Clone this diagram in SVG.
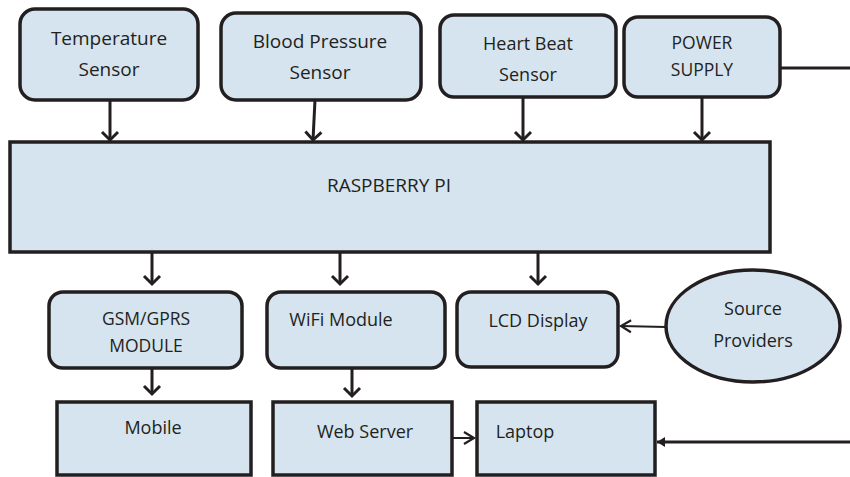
<svg xmlns="http://www.w3.org/2000/svg" width="850" height="477" viewBox="0 0 850 477">
<defs>
<style>
.box{fill:#d5e4ef;stroke:#231f20;stroke-width:3.5}
.t{font-family:"Open Sans","Liberation Sans",sans-serif;font-size:18px;fill:#231f20;text-anchor:middle}
.s{font-size:17.5px}
.c{fill:none;stroke:#231f20;stroke-width:3}
.thin{fill:none;stroke:#231f20;stroke-width:2}
</style>
<marker id="ah" markerUnits="userSpaceOnUse" markerWidth="20" markerHeight="20" viewBox="-10 -10 20 20" refX="0" refY="0" orient="auto" overflow="visible">
<path d="M-8,-8 L0,0 L-8,8" fill="none" stroke="#231f20" stroke-width="3"/>
</marker>
<marker id="ahs" markerUnits="userSpaceOnUse" markerWidth="20" markerHeight="20" viewBox="-10 -10 20 20" refX="0" refY="0" orient="auto" overflow="visible">
<path d="M-10,-6 L0,0 L-10,6" fill="none" stroke="#231f20" stroke-width="2.2"/>
</marker>
<marker id="ahf" markerUnits="userSpaceOnUse" markerWidth="20" markerHeight="20" viewBox="-10 -10 20 20" refX="0" refY="0" orient="auto" overflow="visible">
<path d="M-8,-5 L0,0 L-8,5 Z" fill="#231f20"/>
</marker>
</defs>
<rect width="850" height="477" fill="#ffffff"/>

<g id="connectors">
<line class="c" x1="110" y1="100" x2="110" y2="140" marker-end="url(#ah)"/>
<line class="c" x1="315" y1="100" x2="313" y2="140" marker-end="url(#ah)"/>
<line class="c" x1="523" y1="97" x2="523" y2="140" marker-end="url(#ah)"/>
<line class="c" x1="702" y1="97" x2="702" y2="140" marker-end="url(#ah)"/>
<line class="c" x1="780" y1="68" x2="850" y2="68"/>
<line class="c" x1="152" y1="252" x2="152" y2="284" marker-end="url(#ah)"/>
<line class="c" x1="340" y1="252" x2="340" y2="284" marker-end="url(#ah)"/>
<line class="c" x1="538" y1="252" x2="538" y2="284" marker-end="url(#ah)"/>
<line class="c" x1="152" y1="368" x2="152" y2="394" marker-end="url(#ah)"/>
<line class="c" x1="352" y1="362" x2="352" y2="396" marker-end="url(#ah)"/>
<line class="thin" x1="666" y1="327" x2="621" y2="326" marker-end="url(#ahs)"/>
<line class="thin" x1="452" y1="438" x2="474" y2="438" marker-end="url(#ahs)"/>
<line class="c" x1="850" y1="442" x2="657" y2="442" marker-end="url(#ahf)"/>
</g>

<g id="temperature-sensor">
<rect class="box" x="20" y="9" width="178" height="91" rx="15"/>
<text class="t" x="109" y="45" style="font-size:19px">Temperature</text>
<text class="t" x="109" y="76" style="font-size:19px">Sensor</text>
</g>
<g id="blood-pressure-sensor">
<rect class="box" x="221" y="13" width="200" height="87" rx="15"/>
<text class="t" x="320" y="48" style="font-size:19px">Blood Pressure</text>
<text class="t" x="320" y="79" style="font-size:19px">Sensor</text>
</g>
<g id="heart-beat-sensor">
<rect class="box" x="440" y="15" width="176" height="82" rx="14"/>
<text class="t" x="528" y="50">Heart Beat</text>
<text class="t" x="528" y="81">Sensor</text>
</g>
<g id="power-supply">
<rect class="box" x="624" y="17" width="156" height="80" rx="14"/>
<text class="t s" x="702" y="49">POWER</text>
<text class="t s" x="702" y="76">SUPPLY</text>
</g>
<g id="raspberry-pi">
<rect class="box" x="10" y="142" width="760" height="110"/>
<text class="t" x="389" y="192" style="font-size:19px">RASPBERRY PI</text>
</g>
<g id="gsm-gprs-module">
<rect class="box" x="49" y="292" width="193" height="76" rx="14"/>
<text class="t s" x="146" y="325">GSM/GPRS</text>
<text class="t s" x="146" y="352">MODULE</text>
</g>
<g id="wifi-module">
<rect class="box" x="267" y="292" width="178" height="76" rx="14"/>
<text class="t" x="341" y="326">WiFi Module</text>
</g>
<g id="lcd-display">
<rect class="box" x="457" y="292" width="161" height="75" rx="14"/>
<text class="t" x="538" y="327">LCD Display</text>
</g>
<g id="source-providers">
<ellipse class="box" cx="753" cy="326" rx="87" ry="56"/>
<text class="t" x="753" y="315">Source</text>
<text class="t" x="753" y="347">Providers</text>
</g>
<g id="mobile">
<rect class="box" x="57" y="402" width="194" height="73"/>
<text class="t" x="153" y="434">Mobile</text>
</g>
<g id="web-server">
<rect class="box" x="273" y="402" width="179" height="73"/>
<text class="t" x="365" y="438">Web Server</text>
</g>
<g id="laptop">
<rect class="box" x="477" y="402" width="178" height="73"/>
<text class="t" x="525" y="438">Laptop</text>
</g>
</svg>
